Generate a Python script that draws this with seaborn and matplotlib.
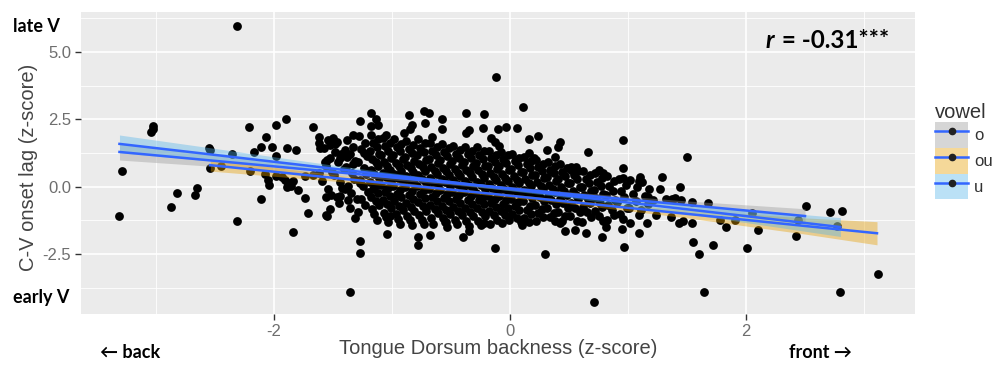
import numpy as np
import pandas as pd
import matplotlib
matplotlib.use("Agg")
import matplotlib.pyplot as plt
import seaborn as sns
from matplotlib.patches import Patch
from matplotlib.lines import Line2D

plt.rcParams['axes.unicode_minus'] = False
plt.rcParams['font.family'] = ['Liberation Sans', 'DejaVu Sans']

# ---------------- data ----------------
# isolated / fringe points (x = tongue dorsum backness, y = C-V onset lag)
pts_x = [-2.31, -3.31, -3.29, -3.04, -3.03, -3.03, -2.87, -2.82, -2.67, -2.65,
         -2.54, -2.54, -2.45, -2.36, -2.31, -2.21, -2.20, -2.17, -2.11, -2.11,
         -2.07, -2.08, -2.05, -2.04, -2.02, -1.98, -1.98, -1.98, -1.90, -1.89,
         -1.93, -1.91, -1.88, -1.86, -1.89, -1.84, -1.80, -1.84, -1.81, -1.74,
         -1.74, -1.71, -1.67, -1.67, -1.62, -1.62, -1.61, -1.54, -1.50, -1.47,
         -1.53, -1.48, -1.44, -1.38, -1.55, -1.56, -1.56, -1.62, -1.53, -1.55,
         -1.44, -1.37, -1.40, -1.18, -1.27, -1.14, -1.12, -1.18, -1.05, -1.33,
         -0.86, -0.73, -0.69, -0.72, -0.83, -0.85, -0.90, -0.58, -0.58, -0.66,
         -1.31, -1.04, -0.78, -0.78, -0.68, -1.27, -1.27, -1.02, -0.54, -1.36,
         -0.13, 0.30, 0.71, -0.12, 0.11, 0.96, 0.66, 0.97, -0.37, -0.22,
         -0.35, -0.37, -0.23, -0.10, -0.03, 0.06, -0.16, -0.13, -0.09, 0.16,
         0.24, 0.42, 0.41, 0.31, 0.38, 0.16, 0.20, 0.10, -0.40, -0.35,
         0.42, 0.47, 0.56, 0.52, 0.75, 0.79, 0.96, 0.96, 1.10, 1.09,
         1.29, 1.27, 1.44, 1.17, 1.21, 1.32, 1.40, 1.24, 1.16, 1.09,
         1.36, 1.43, 1.02, 0.95, 0.81, 0.78, 0.64, 0.55, 1.50, 1.45,
         1.54, 1.68, 1.47, 1.54, 1.78, 1.91, 1.83, 2.10, 2.05, 1.55,
         1.72, 2.01, 2.51, 2.44, 2.42, 2.71, 2.81, 2.77, 1.64, 2.80,
         3.12, 1.60, 1.37, -2.55, -0.22]
pts_y = [5.97, -1.09, 0.60, 2.05, 2.26, 2.15, -0.74, -0.22, -0.31, -0.06,
         1.36, 0.68, 0.78, 1.22, -1.27, 2.23, 0.60, 1.28, -0.47, 1.49,
         1.84, 0.47, 0.25, 0.06, 1.49, 2.29, 1.14, 0.41, 2.50, 1.43,
         0.35, 0.25, 0.13, 0.03, 0.00, 0.20, -0.12, -1.70, 1.36, 0.40,
         -0.43, -0.97, 2.21, 0.43, 1.86, 1.61, 1.43, 1.74, 1.80, 1.67,
         1.55, 1.30, 1.05, 1.12, 0.99, -0.37, -1.05, 0.50, -0.84, -1.09,
         -0.35, -0.49, -0.10, 2.75, 2.44, 2.50, 2.29, 2.26, 1.92, 1.92,
         2.67, 2.83, 2.75, 2.36, 2.29, 2.13, 2.00, 2.50, 2.13, 1.86,
         -1.18, -1.76, -1.86, -2.17, -1.80, -2.00, -2.48, -1.09, -1.30, -3.90,
         -2.29, -2.51, -4.27, 4.07, 2.95, 1.74, 1.30, -2.25, 2.75, 2.70,
         2.11, 1.99, 2.17, 2.13, 2.23, 2.19, 1.80, 1.67, 1.51, 1.76,
         1.88, 1.67, 1.49, 1.36, 1.12, 1.24, 1.05, -1.42, -1.86, -1.64,
         -1.36, -1.64, 0.74, 0.62, 0.62, 0.50, 0.68, 0.31, 0.37, 0.22,
         0.35, -0.10, 0.00, -0.37, -0.49, -0.47, -0.43, -1.05, -1.36, -1.73,
         -1.14, -1.36, -1.36, -1.59, -1.49, -1.86, -1.73, -1.61, 1.12, -0.49,
         -0.56, -0.62, -1.26, -1.34, -1.24, -1.24, -1.51, -1.61, -0.99, -2.04,
         -2.17, -2.29, -0.72, -1.24, -1.82, -0.93, -0.89, -1.46, -3.90, -3.90,
         -3.25, -2.51, -0.45, 1.45, -1.36]

# dense central cloud, column by column
cloud_cols = [
    ([-1.58, -1.53, -1.56, -1.51, -1.59, -1.54, -1.52, -1.57],
     [1.42, 1.05, 0.78, 0.55, 0.21, -0.08, -0.31, 0.93]),
    ([-1.48, -1.43, -1.46, -1.41, -1.49, -1.44, -1.42, -1.47, -1.45, -1.40],
     [1.58, 1.21, 0.92, 0.66, 0.44, 0.18, -0.05, -0.38, -0.62, 1.37]),
    ([-1.38, -1.33, -1.36, -1.31, -1.39, -1.34, -1.32, -1.37, -1.35, -1.30, -1.36, -1.33],
     [1.75, 1.48, 1.22, 0.97, 0.73, 0.51, 0.29, 0.04, -0.22, -0.47, -0.78, 0.86]),
    ([-1.28, -1.23, -1.26, -1.21, -1.29, -1.24, -1.22, -1.27, -1.25, -1.20, -1.26, -1.23, -1.29, -1.21, -1.24, -1.27],
     [1.88, 1.62, 1.39, 1.15, 0.92, 0.69, 0.47, 0.25, 0.02, -0.21, -0.44, -0.69, -0.95, 0.58, 1.27, 0.13]),
    ([-1.18, -1.12, -1.16, -1.13, -1.19, -1.11, -1.17, -1.14, -1.12, -1.18, -1.15, -1.11, -1.19, -1.13, -1.16, -1.12, -1.18, -1.14, -1.11, -1.17, -1.15, -1.13],
     [1.93, 1.76, 1.64, 1.49, 1.33, 1.21, 1.04, 0.90, 0.77, 0.61, 0.48, 0.33, 0.19, 0.05, -0.10, -0.24, -0.37, -0.53, -0.68, -0.82, -1.01, -1.24]),
    ([-1.08, -1.02, -1.06, -1.03, -1.09, -1.01, -1.07, -1.04, -1.02, -1.08, -1.05, -1.01, -1.09, -1.03, -1.06, -1.02, -1.08, -1.04, -1.01, -1.07, -1.05, -1.03],
     [1.81, 1.62, 1.50, 1.33, 1.18, 1.07, 0.91, 0.78, 0.63, 0.50, 0.36, 0.22, 0.08, -0.06, -0.19, -0.35, -0.49, -0.63, -0.80, -0.97, -1.12, -1.33]),
    ([-0.98, -0.92, -0.96, -0.93, -0.99, -0.91, -0.97, -0.94, -0.92, -0.98, -0.95, -0.91, -0.99, -0.93, -0.96, -0.92, -0.98, -0.94, -0.91, -0.97, -0.95, -0.93],
     [1.78, 1.60, 1.47, 1.31, 1.17, 1.02, 0.88, 0.75, 0.59, 0.46, 0.31, 0.17, 0.04, -0.11, -0.26, -0.40, -0.55, -0.70, -0.86, -1.03, -1.21, -1.38]),
    ([-0.88, -0.82, -0.86, -0.83, -0.89, -0.81, -0.87, -0.84, -0.82, -0.88, -0.85, -0.81, -0.89, -0.83, -0.86, -0.82, -0.88, -0.84, -0.81, -0.87, -0.85, -0.83],
     [1.70, 1.55, 1.39, 1.26, 1.10, 0.97, 0.81, 0.68, 0.54, 0.39, 0.25, 0.12, -0.03, -0.17, -0.31, -0.46, -0.61, -0.77, -0.92, -1.08, -1.25, -1.41]),
    ([-0.78, -0.72, -0.76, -0.73, -0.79, -0.71, -0.77, -0.74, -0.72, -0.78, -0.75, -0.71, -0.79, -0.73, -0.76, -0.72, -0.78, -0.74, -0.71, -0.77, -0.75, -0.73],
     [1.79, 1.61, 1.45, 1.29, 1.16, 1.00, 0.85, 0.72, 0.57, 0.43, 0.28, 0.14, 0.01, -0.14, -0.28, -0.43, -0.58, -0.73, -0.89, -1.05, -1.22, -1.40]),
    ([-0.68, -0.62, -0.66, -0.63, -0.69, -0.61, -0.67, -0.64, -0.62, -0.68, -0.65, -0.61, -0.69, -0.63, -0.66, -0.62, -0.68, -0.64, -0.61, -0.67, -0.65],
     [1.62, 1.46, 1.31, 1.17, 1.03, 0.88, 0.74, 0.60, 0.46, 0.33, 0.19, 0.05, -0.09, -0.23, -0.37, -0.52, -0.67, -0.82, -0.98, -1.16, -1.37]),
    ([-0.58, -0.52, -0.56, -0.53, -0.59, -0.51, -0.57, -0.54, -0.52, -0.58, -0.55, -0.51, -0.59, -0.53, -0.56, -0.52, -0.58, -0.54, -0.51, -0.57, -0.55, -0.53],
     [1.58, 1.43, 1.28, 1.13, 0.99, 0.86, 0.71, 0.57, 0.43, 0.30, 0.16, 0.02, -0.12, -0.26, -0.41, -0.55, -0.70, -0.85, -1.01, -1.17, -1.33, -1.49]),
    ([-0.48, -0.42, -0.46, -0.43, -0.49, -0.41, -0.47, -0.44, -0.42, -0.48, -0.45, -0.41, -0.49, -0.43, -0.46, -0.42, -0.48, -0.44, -0.41, -0.47, -0.45],
     [1.52, 1.37, 1.22, 1.08, 0.94, 0.80, 0.66, 0.52, 0.38, 0.24, 0.10, -0.04, -0.18, -0.32, -0.46, -0.61, -0.76, -0.91, -1.07, -1.23, -1.40]),
    ([-0.38, -0.32, -0.36, -0.33, -0.39, -0.31, -0.37, -0.34, -0.32, -0.38, -0.35, -0.31, -0.39, -0.33, -0.36, -0.32, -0.38, -0.34, -0.31, -0.37, -0.35],
     [1.49, 1.34, 1.20, 1.05, 0.91, 0.77, 0.63, 0.49, 0.35, 0.21, 0.07, -0.07, -0.21, -0.35, -0.49, -0.64, -0.79, -0.94, -1.10, -1.27, -1.46]),
    ([-0.28, -0.22, -0.26, -0.23, -0.29, -0.21, -0.27, -0.24, -0.22, -0.28, -0.25, -0.21, -0.29, -0.23, -0.26, -0.22, -0.28, -0.24, -0.21, -0.27, -0.25],
     [1.46, 1.31, 1.17, 1.03, 0.89, 0.75, 0.61, 0.47, 0.33, 0.19, 0.05, -0.09, -0.23, -0.37, -0.51, -0.65, -0.80, -0.95, -1.10, -1.26, -1.42]),
    ([-0.18, -0.12, -0.16, -0.13, -0.19, -0.11, -0.17, -0.14, -0.12, -0.18, -0.15, -0.11, -0.19, -0.13, -0.16, -0.12, -0.18, -0.14, -0.11, -0.17],
     [1.33, 1.19, 1.05, 0.92, 0.78, 0.64, 0.51, 0.37, 0.23, 0.09, -0.05, -0.19, -0.33, -0.47, -0.61, -0.76, -0.91, -1.06, -1.22, -1.39]),
    ([-0.08, -0.02, -0.06, -0.03, -0.09, -0.01, -0.07, -0.04, -0.02, -0.08, -0.05, -0.01, -0.09, -0.03, -0.06, -0.02, -0.08, -0.04, -0.01, -0.07],
     [1.30, 1.16, 1.02, 0.88, 0.75, 0.61, 0.48, 0.34, 0.20, 0.06, -0.08, -0.22, -0.36, -0.50, -0.64, -0.78, -0.92, -1.07, -1.22, -1.36]),
    ([0.02, 0.08, 0.04, 0.07, 0.01, 0.09, 0.03, 0.06, 0.08, 0.02, 0.05, 0.09, 0.01, 0.07, 0.04, 0.08, 0.02, 0.06, 0.09],
     [1.21, 1.07, 0.94, 0.80, 0.67, 0.53, 0.40, 0.26, 0.12, -0.02, -0.16, -0.30, -0.44, -0.58, -0.72, -0.86, -1.01, -1.16, -1.31]),
    ([0.12, 0.18, 0.14, 0.17, 0.11, 0.19, 0.13, 0.16, 0.18, 0.12, 0.15, 0.19, 0.11, 0.17, 0.14, 0.18, 0.12, 0.16],
     [1.10, 0.96, 0.83, 0.69, 0.56, 0.42, 0.29, 0.15, 0.01, -0.13, -0.27, -0.41, -0.55, -0.70, -0.85, -1.00, -1.15, -1.30]),
    ([0.22, 0.28, 0.24, 0.27, 0.21, 0.29, 0.23, 0.26, 0.28, 0.22, 0.25, 0.29, 0.21, 0.27, 0.24, 0.28, 0.22],
     [1.00, 0.86, 0.72, 0.59, 0.45, 0.31, 0.17, 0.04, -0.10, -0.24, -0.38, -0.52, -0.67, -0.82, -0.97, -1.13, -1.29]),
    ([0.32, 0.38, 0.34, 0.37, 0.31, 0.39, 0.33, 0.36, 0.38, 0.32, 0.35, 0.39, 0.31, 0.37, 0.34, 0.38],
     [0.91, 0.77, 0.63, 0.49, 0.35, 0.21, 0.07, -0.07, -0.21, -0.35, -0.50, -0.65, -0.80, -0.96, -1.12, -1.28]),
    ([0.42, 0.48, 0.44, 0.47, 0.41, 0.49, 0.43, 0.46, 0.48, 0.42, 0.45, 0.49, 0.41, 0.47, 0.44],
     [0.86, 0.71, 0.56, 0.41, 0.27, 0.12, -0.02, -0.17, -0.32, -0.47, -0.62, -0.78, -0.94, -1.10, -1.27]),
    ([0.52, 0.58, 0.54, 0.57, 0.51, 0.59, 0.53, 0.56, 0.58, 0.52, 0.55, 0.59, 0.51, 0.57],
     [0.72, 0.57, 0.43, 0.28, 0.14, -0.01, -0.16, -0.31, -0.46, -0.62, -0.78, -0.94, -1.10, -1.28]),
    ([0.62, 0.68, 0.64, 0.67, 0.61, 0.69, 0.63, 0.66, 0.68, 0.62, 0.65, 0.69, 0.61],
     [0.60, 0.45, 0.30, 0.15, 0.00, -0.15, -0.30, -0.45, -0.61, -0.77, -0.94, -1.11, -1.30]),
    ([0.72, 0.78, 0.74, 0.77, 0.71, 0.79, 0.73, 0.76, 0.78, 0.72, 0.75, 0.79],
     [0.49, 0.34, 0.18, 0.03, -0.12, -0.27, -0.43, -0.59, -0.75, -0.92, -1.09, -1.27]),
    ([0.82, 0.88, 0.84, 0.87, 0.81, 0.89, 0.83, 0.86, 0.88, 0.82],
     [0.38, 0.20, 0.03, -0.15, -0.32, -0.50, -0.68, -0.86, -1.05, -1.24]),
    ([0.92, 0.98, 0.94, 0.97, 0.91, 0.99, 0.93, 0.96],
     [0.27, 0.06, -0.16, -0.37, -0.58, -0.79, -1.01, -1.19]),
    ([1.02, 1.08, 1.04, 1.07, 1.01, 1.09],
     [0.24, -0.02, -0.28, -0.54, -0.79, -1.05]),
    ([1.12, 1.18, 1.14, 1.17, 1.11],
     [0.18, -0.09, -0.36, -0.63, -0.88]),
]

# per-vowel linear fits (knots along the fitted line) and CI half-widths
vowels = ['o', 'ou', 'u']
fit_x = {'o':  [-3.31, -2.5, -1.5, -0.5, 0.5, 1.5, 2.5],
         'ou': [-2.54, -1.5, -0.5, 0.5, 1.5, 2.5, 3.11],
         'u':  [-3.31, -2.5, -1.5, -0.5, 0.5, 1.5, 2.8]}
fit_y = {'o':  [1.29, 0.96, 0.55, 0.14, -0.27, -0.68, -1.09],
         'ou': [0.80, 0.33, -0.11, -0.56, -1.01, -1.46, -1.73],
         'u':  [1.59, 1.18, 0.67, 0.17, -0.34, -0.84, -1.50]}
fit_hw = {'o':  [0.30, 0.21, 0.12, 0.07, 0.08, 0.15, 0.27],
          'ou': [0.22, 0.12, 0.06, 0.07, 0.15, 0.30, 0.43],
          'u':  [0.33, 0.24, 0.13, 0.06, 0.07, 0.17, 0.35]}
ribbon_colors = {'o': '#999999', 'ou': '#E69F00', 'u': '#56B4E9'}
line_color = '#3366FF'

# ---------------- build table ----------------
cx, cy = [], []
for xs, ys in cloud_cols:
    for a, b in zip(xs, ys):
        cx.append(a)
        cy.append(b)
df = pd.DataFrame({'x': list(pts_x[:len(pts_y)]) + cx,
                   'y': list(pts_y[:len(pts_x)]) + cy})

# ---------------- figure ----------------
W, H = 993, 367
fig = plt.figure(figsize=(W / 100, H / 100), dpi=100)
fig.patch.set_facecolor('white')
ax = fig.add_axes([81 / W, 1 - 314 / H, (915 - 81) / W, (314 - 12) / H])
ax.set_facecolor('#EBEBEB')

sns.scatterplot(data=df, x='x', y='y', color='black', s=40, linewidth=0,
                ax=ax, zorder=3, legend=False)

for v in vowels:
    lo = [m - h for m, h in zip(fit_y[v], fit_hw[v])]
    hi = [m + h for m, h in zip(fit_y[v], fit_hw[v])]
    ax.fill_between(fit_x[v], lo, hi, color=ribbon_colors[v], alpha=0.4,
                    linewidth=0, zorder=4)
for v in vowels:
    sns.lineplot(x=fit_x[v], y=fit_y[v], color=line_color, linewidth=1.8,
                 ax=ax, zorder=5, sort=False)

ax.set_xlim(-3.636, 3.432)
ax.set_ylim(-4.73, 6.49)
ax.set_xticks([-2, 0, 2])
ax.set_xticklabels(['-2', '0', '2'])
ax.set_xticks([-3, -1, 1, 3], minor=True)
ax.set_yticks([-2.5, 0, 2.5, 5.0])
ax.set_yticklabels(['-2.5', '0.0', '2.5', '5.0'])
ax.set_yticks([-3.75, -1.25, 1.25, 3.75, 6.25], minor=True)
ax.grid(which='major', color='white', linewidth=1.2, zorder=0)
ax.grid(which='minor', color='white', linewidth=0.6, zorder=0)
ax.set_axisbelow(True)
for s in ax.spines.values():
    s.set_visible(False)
ax.tick_params(which='major', length=4, width=1, color='#333333',
               labelcolor='#6E6E6E', labelsize=12, pad=3)
ax.tick_params(which='minor', length=0)
ax.set_xlabel('')
ax.set_ylabel('')

# axis titles
fig.text(498 / W, 1 - 348 / H, 'Tongue Dorsum backness (z-score)', ha='center',
         va='center', fontsize=14.5, color='#444444')
fig.text(29 / W, 1 - 167 / H, 'C-V onset lag (z-score)', ha='center', va='center',
         rotation=90, fontsize=14.5, color='#444444')

# annotations
afam = ['Lato', 'DejaVu Sans']
fig.text(13 / W, 1 - 27 / H, 'late V', ha='left', va='center', fontsize=13,
         weight='bold', family=afam, color='black')
fig.text(13 / W, 1 - 298 / H, 'early V', ha='left', va='center', fontsize=13,
         weight='bold', family=afam, color='black')
fig.text(100 / W, 1 - 352 / H, '\u2190 back', ha='left', va='center', fontsize=13,
         weight='bold', family=afam, color='black')
fig.text(852 / W, 1 - 352 / H, 'front \u2192', ha='right', va='center', fontsize=13,
         weight='bold', family=afam, color='black')

t1 = fig.text(766 / W, 1 - 40 / H, 'r', ha='left', va='center', fontsize=17.5,
              weight='bold', style='italic', family=afam, color='black')
fig.canvas.draw()
bb = t1.get_window_extent(renderer=fig.canvas.get_renderer())
fig.text((bb.x1 + 1) / W, 1 - 40 / H, ' = -0.31***', ha='left', va='center',
         fontsize=17.5, weight='bold', family=afam, color='black')

# legend
handles = []
for v in vowels:
    p = Patch(facecolor=ribbon_colors[v], alpha=0.4, edgecolor='none')
    ln = Line2D([], [], color=line_color, linewidth=1.8, marker='o',
                markersize=4.5, markerfacecolor='#222222',
                markeredgecolor='#222222')
    handles.append((p, ln))
leg = fig.legend(handles, vowels, title='vowel', loc='upper left',
                 bbox_to_anchor=(935 / W, 1 - 103 / H), frameon=False,
                 fontsize=12, title_fontsize=14.5, handlelength=2.0,
                 handleheight=2.0, labelspacing=0.0, handletextpad=0.35,
                 borderpad=0, borderaxespad=0, alignment='left')
leg.get_title().set_color('#333333')
for t in leg.get_texts():
    t.set_color('#333333')

fig.savefig('out.png', dpi=100, facecolor='white')
